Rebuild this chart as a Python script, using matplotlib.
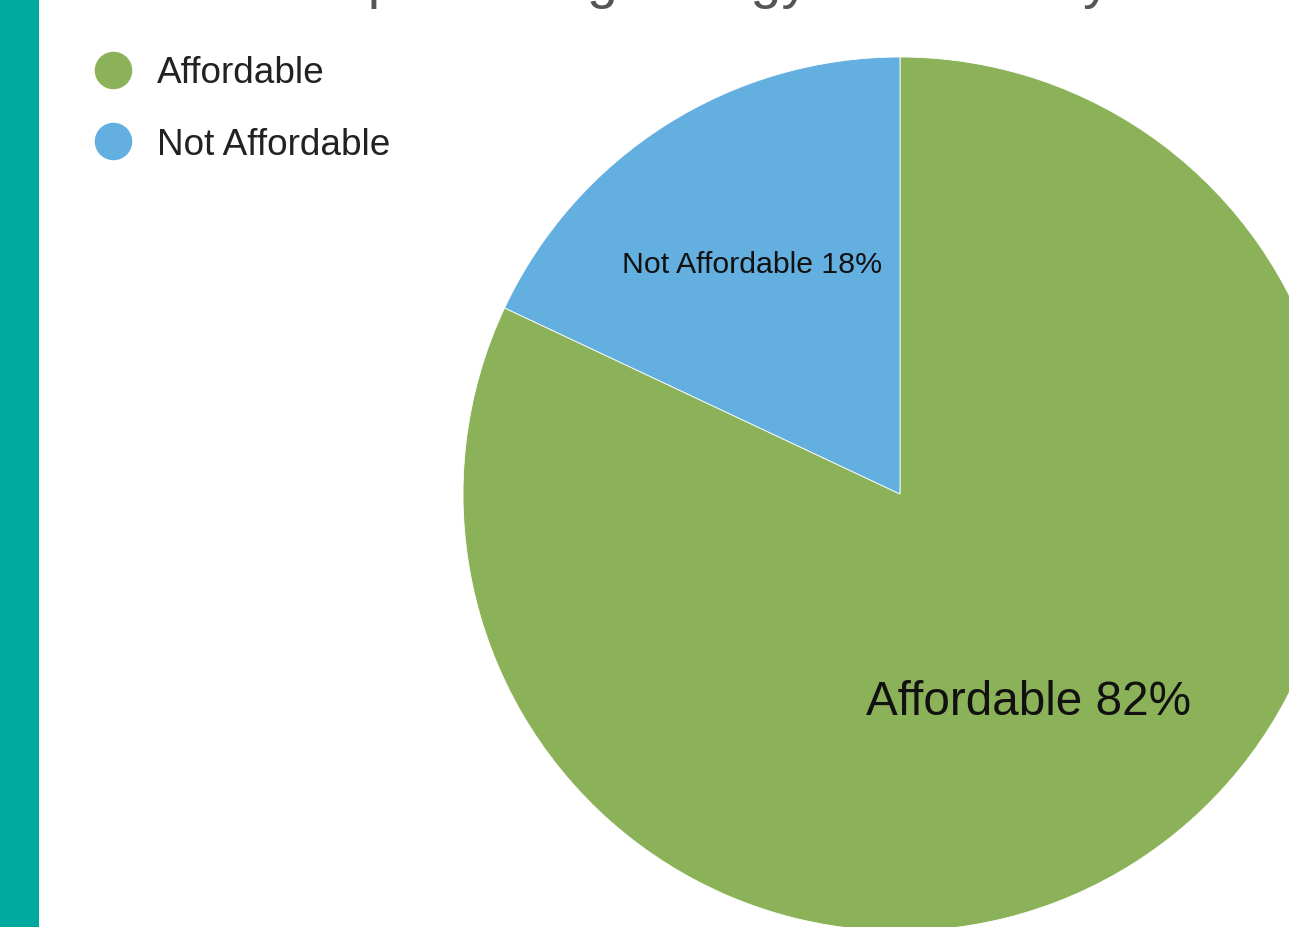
import matplotlib
matplotlib.use("Agg")
import matplotlib.pyplot as plt
from matplotlib.lines import Line2D
from matplotlib.patches import Rectangle

plt.rcParams['font.family'] = ['Liberation Sans', 'DejaVu Sans']

# Data
categories = ["Affordable", "Not Affordable"]
values = [82, 18]
colors = ["#8BB258", "#63B0E0"]
title = "People Rating Energy Affordability"

W, H = 1289, 928
fig = plt.figure(figsize=(W / 100, H / 100), dpi=100)
fig.patch.set_facecolor("white")
ax = fig.add_axes([0, 0, 1, 1])

# teal side bar
fig.patches.append(Rectangle((0, 0), 39 / W, 1, transform=fig.transFigure,
                             facecolor="#00A99D", edgecolor="none", zorder=0))

cx, cy, r = 900, H - 495, 437
wedges, _ = ax.pie(values, colors=colors, startangle=90, counterclock=False,
                   center=(cx, cy), radius=r, frame=True,
                   wedgeprops=dict(edgecolor="white", linewidth=0.6))
ax.set_xlim(0, W)
ax.set_ylim(0, H)
ax.set_aspect("equal")
ax.axis("off")

# slice labels
ax.text(752, H - 265, f"{categories[1]} {values[1]}%", fontsize=21.8,
        ha="center", va="center", color="#111111")
ax.text(1029, H - 703, f"{categories[0]} {values[0]}%", fontsize=34.3,
        ha="center", va="center", color="#111111")

# legend
handles = [Line2D([0], [0], marker="o", linestyle="none", markersize=26,
                  markerfacecolor=c, markeredgecolor=c) for c in colors]
fig.legend(handles, categories, loc="upper left",
           bbox_to_anchor=(73 / W, 1 - 38 / H), frameon=False,
           fontsize=26.6, labelspacing=1.0, handletextpad=0.6,
           handlelength=1.17, labelcolor="#222222", borderpad=0)

# title (clipped at top edge, as in the reference)
fig.text(690 / W, 1 + 3 / H, title, fontsize=40, color="#555555",
         ha="center", va="baseline")

fig.savefig("out.png", dpi=100)
